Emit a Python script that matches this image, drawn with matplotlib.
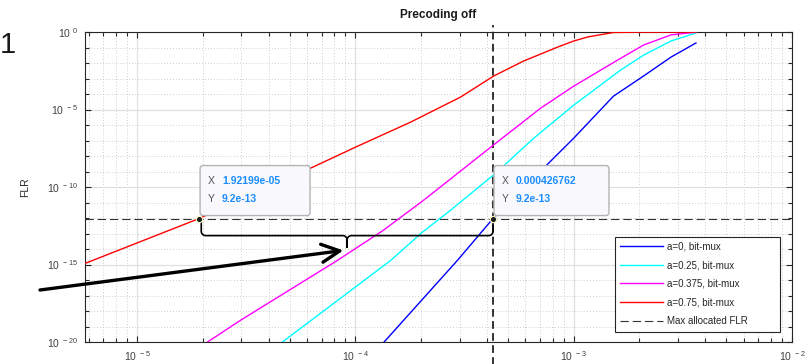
import matplotlib
matplotlib.use('Agg')
import matplotlib.pyplot as plt
import matplotlib.ticker as mticker
import matplotlib.transforms as mtransforms
from matplotlib.patches import FancyBboxPatch, Rectangle
import numpy as np

plt.rcParams['font.family'] = ['Liberation Sans', 'DejaVu Sans']
plt.rcParams['mathtext.fontset'] = 'custom'
plt.rcParams['mathtext.rm'] = 'Liberation Sans'

# values (BER on x, FLR on y)
ber_a0 = [1.33e-4, 2.93e-4, 4.26762e-4, 1.0e-3, 1.52e-3, 2.09e-3, 2.79e-3, 3.63e-3]
flr_a0 = [7.6e-21, 1.82e-15, 9.2e-13, 1.41e-7, 7.2e-5, 1.45e-3, 2.4e-2, 0.195]

ber_a025 = [4.53e-5, 1.45e-4, 2.02e-4, 2.73e-4, 4.39e-4, 6.56e-4, 1.0e-3, 1.64e-3, 2.09e-3, 2.79e-3, 3.63e-3]
flr_a025 = [7.9e-21, 1.82e-15, 1.17e-13, 3.2e-12, 7.8e-10, 1.41e-7, 1.9e-5, 3.5e-3, 3.2e-2, 0.263, 0.86]

ber_a0375 = [2.0e-5, 2.96e-5, 8.26e-5, 1.34e-4, 2.05e-4, 4.39e-4, 7.06e-4, 1.0e-3, 1.59e-3, 2.09e-3, 2.79e-3, 3.63e-3]
flr_a0375 = [6.3e-21, 2.4e-19, 1.82e-15, 1.58e-13, 1.38e-11, 6.6e-8, 1.23e-5, 3.2e-4, 1.55e-2, 0.145, 0.65, 0.97]

ber_a075 = [5.77e-6, 1.92199e-5, 6.22e-5, 1.0e-4, 1.786e-4, 3.03e-4, 4.30e-4, 5.90e-4, 8.45e-4, 1.0e-3, 1.16e-3, 1.52e-3, 2.03e-3, 3.63e-3]
flr_a075 = [1.17e-15, 9.2e-13, 1.62e-9, 3.7e-8, 1.51e-6, 6.3e-5, 1.45e-3, 1.35e-2, 0.107, 0.263, 0.479, 0.93, 0.98, 0.98]

labels = ['a=0, bit-mux', 'a=0.25, bit-mux', 'a=0.375, bit-mux', 'a=0.75, bit-mux']
colors = ['#0000ff', '#00ffff', '#ff00ff', '#ff0000']

max_flr = 9.2e-13
tip_x = [1.92199e-05, 0.000426762]
tip_text = ['1.92199e-05', '0.000426762']
tip_width = [110, 115]

fig = plt.figure(figsize=(8.08, 3.64), dpi=100)
ax = fig.add_axes([85 / 808, 22 / 364, 707 / 808, 310 / 364])

series = [(ber_a0, flr_a0), (ber_a025, flr_a025), (ber_a0375, flr_a0375), (ber_a075, flr_a075)]
for (x, y), lab, c in zip(series, labels, colors):
    ax.plot(x, y, color=c, lw=1.0, label=lab, zorder=3)

ax.axhline(max_flr, color='#333333', lw=0.8, ls=(0, (7.5, 3.5)), label='Max allocated FLR', zorder=2)
ax.plot([tip_x[1], tip_x[1]], [-0.075, 1.023], transform=ax.get_xaxis_transform(),
        color='#333333', lw=1.4, ls=(0, (4, 2.2)), clip_on=False, zorder=2)

ax.set_xscale('log')
ax.set_yscale('log')
ax.set_xlim(5.77e-6, 1e-2)
ax.set_ylim(1e-20, 1)

fmt = mticker.FuncFormatter(lambda v, pos: r'$\mathregular{10^{\ %d}}$' % round(np.log10(v)))
ax.xaxis.set_major_locator(mticker.LogLocator(base=10))
ax.xaxis.set_minor_locator(mticker.LogLocator(base=10, subs=np.arange(2, 10)))
ax.xaxis.set_major_formatter(fmt)
ax.xaxis.set_minor_formatter(mticker.NullFormatter())
ax.yaxis.set_major_locator(mticker.FixedLocator([1e-20, 1e-15, 1e-10, 1e-5, 1]))
ax.yaxis.set_minor_locator(mticker.FixedLocator([10.0 ** k for k in range(-20, 1)]))
ax.yaxis.set_major_formatter(fmt)
ax.yaxis.set_minor_formatter(mticker.NullFormatter())

ax.tick_params(which='both', direction='in', top=True, right=True, width=0.8,
               color='#262626', labelcolor='#404040', labelsize=7.5)
ax.tick_params(which='major', length=4.5, pad=5)
ax.tick_params(which='minor', length=3)
ax.grid(which='major', color='#e0e0e0', lw=0.9, ls='-', zorder=0)
ax.grid(which='minor', color='#bdbdbd', lw=0.6, ls=(0, (1, 2.5)), zorder=0)
ax.set_axisbelow(True)
for sp in ax.spines.values():
    sp.set_color('#262626')
    sp.set_linewidth(0.8)

ax.set_title('Precoding off', fontsize=8.5, fontweight='bold', pad=10, color='#1a1a1a')
ax.set_ylabel('FLR', fontsize=7.5, color='#262626')
ax.yaxis.set_label_coords((30 - 85) / 707, 0.5)

# legend box is wider than its content, as in the matlab figure
ax.add_patch(Rectangle((0.7497, 0.032), 0.2333, 0.307, transform=ax.transAxes,
                       fc='white', ec='#262626', lw=0.8, zorder=8))
leg = ax.legend(loc='upper left', bbox_to_anchor=(0.7497, 0.339), borderaxespad=0,
                fontsize=7, frameon=False, handlelength=4.4, labelspacing=0.88,
                handletextpad=0.4, borderpad=0.5)
leg.set_zorder(9)
for t in leg.get_texts():
    t.set_color('#262626')

# data tips
for xt, txt, w in zip(tip_x, tip_text, tip_width):
    tr = mtransforms.IdentityTransform() + mtransforms.ScaledTranslation(xt, max_flr, ax.transData)
    box = FancyBboxPatch((1, 3), w, 50, boxstyle='round,pad=0,rounding_size=3',
                         fc='#f8f8fd', ec='#b4b4b4', lw=1, transform=tr, zorder=5)
    ax.add_patch(box)
    for dy, key, val in [(38, 'X', txt), (20, 'Y', '9.2e-13')]:
        ax.annotate(key, (xt, max_flr), xytext=(9, dy), textcoords='offset pixels',
                    fontsize=7.5, color='#555555', va='center', ha='left', zorder=6)
        ax.annotate(val, (xt, max_flr), xytext=(23, dy), textcoords='offset pixels',
                    fontsize=7.5, color='#1a8cff', fontweight='bold', va='center', ha='left', zorder=6)
    ax.plot([xt], [max_flr], 'o', ms=4.5, mfc='#1a1a1a', mec='#ffffc8', mew=0.8, zorder=7)

# brace between the two tips, built in log space
lx1, lx2 = np.log10(tip_x[0]) + 0.01, np.log10(tip_x[1])
ly0 = np.log10(max_flr)
y_top, y_bar, y_tip = ly0 - 0.06, ly0 - 1.1, ly0 - 1.85
rx, ry = 0.02, 0.28
xm = (lx1 + lx2) / 2
t = np.linspace(0, np.pi / 2, 10)


def corner(cx, cy, sx, sy, flip=False):
    a = t[::-1] if flip else t
    return cx + sx * rx * np.cos(a), cy + sy * ry * np.sin(a)


bx, by = [lx1], [y_top]
px, py = corner(lx1 + rx, y_bar + ry, -1, -1)
bx += list(px); by += list(py)
px, py = corner(xm - rx, y_bar - ry, 1, 1, flip=True)
bx += list(px); by += list(py)
bx += [xm]; by += [y_tip]
px, py = corner(xm + rx, y_bar - ry, -1, 1)
bx += [xm] + list(px); by += [y_bar - ry] + list(py)
px, py = corner(lx2 - rx, y_bar + ry, 1, -1)
bx += list(px[::-1]); by += list(py[::-1])
bx += [lx2]; by += [y_top]
ax.plot(10 ** np.array(bx), 10 ** np.array(by), color='black', lw=1.2, zorder=4,
        solid_joinstyle='round')

# arrow pointing at the brace
ax.annotate('', xy=(8.81e-5, 8.1e-15), xytext=(40 / 808, 1 - 290 / 364),
            textcoords='figure fraction', annotation_clip=False,
            arrowprops=dict(arrowstyle='->,head_length=1.3,head_width=0.65', lw=2.4,
                            color='black', shrinkA=0, shrinkB=0))

fig.text(0.0, 1 - 53 / 364, '1', fontsize=21, ha='left', va='baseline', color='#1a1a1a')

fig.savefig('out.png', dpi=100)
